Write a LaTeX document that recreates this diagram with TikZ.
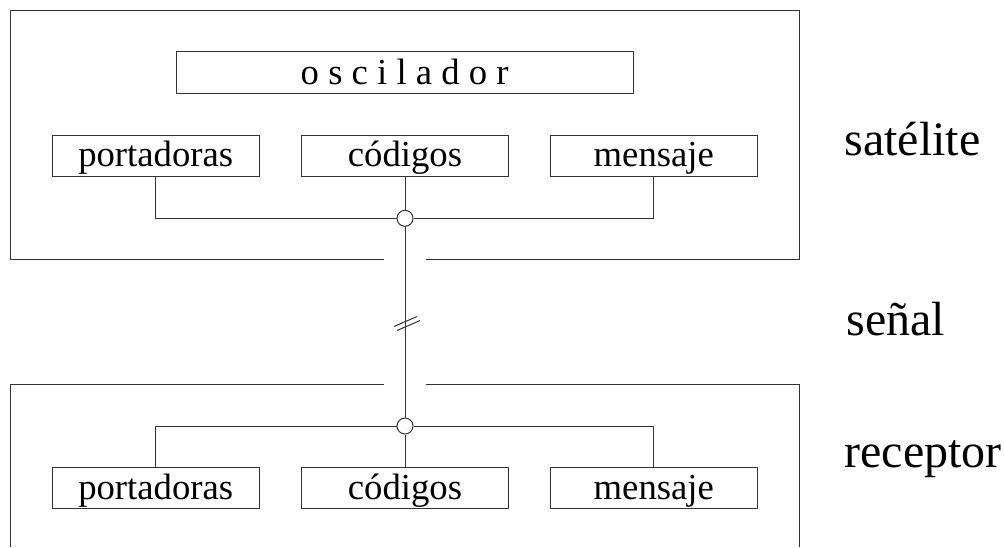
\documentclass[tikz,border=0pt]{standalone}
\usepackage{fontspec}
\setmainfont{Liberation Serif}
\tikzset{
	bloque/.style={draw, minimum width=207pt, text height=31.5pt, text depth=9.5pt, inner ysep=0pt, font=\fontsize{36.7}{40}\selectfont},
	nudo/.style={draw, circle, fill=white, minimum size=16pt, inner sep=0pt},
	rotulo/.style={anchor=base west, font=\fontsize{48}{52}\selectfont}
}
\begin{document}
\begin{tikzpicture}[x=1pt,y=-1pt,line width=1pt,draw=black!80]
		\useasboundingbox (0,0) rectangle (1004,547);
		\draw (383.7,259.3) -| (10.3,10.3) -| (799.3,259.3) -- (425.7,259.3);
		\draw (383.7,384.3) -| (10.3,547);
		\draw (425.7,384.3) -| (799.3,547);
		\node[bloque, minimum width=457pt, text height=33pt, text depth=8.6pt] (osc) at (404.7,72.5) {o s c i l a d o r};
		\node[bloque] (port1) at (155.7,155.5) {portadoras};
		\node[bloque] (cod1) at (405,155.5) {códigos};
		\node[bloque] (mens1) at (653.8,155.5) {mensaje};
		\node[bloque] (port2) at (155.7,488) {portadoras};
		\node[bloque] (cod2) at (405,488) {códigos};
		\node[bloque] (mens2) at (653.8,488) {mensaje};
		\node[nudo] (j1) at (405,218.3) {};
		\node[nudo] (j2) at (405,426) {};
		\draw (port1.south) |- (j1.west);
		\draw (mens1.south) |- (j1.east);
		\draw (cod1.south) -- (j1.north);
		\draw (j1.south) -- (j2.north);
		\draw (port2.north) |- (j2.west);
		\draw (mens2.north) |- (j2.east);
		\draw (cod2.north) -- (j2.south);
		\coordinate (corte) at (405,321.5);
		\draw ([shift={(-11,5)}]corte) -- ++(23,-10);
		\draw ([shift={(-8,9)}]corte) -- ++(23,-10);
		\node[rotulo] (sat) at (840.7,155) {satélite};
		\node[rotulo] (sen) at (842.7,335) {señal};
		\node[rotulo] (rec) at (840.7,467) {receptor};
	\end{tikzpicture}
\end{document}
